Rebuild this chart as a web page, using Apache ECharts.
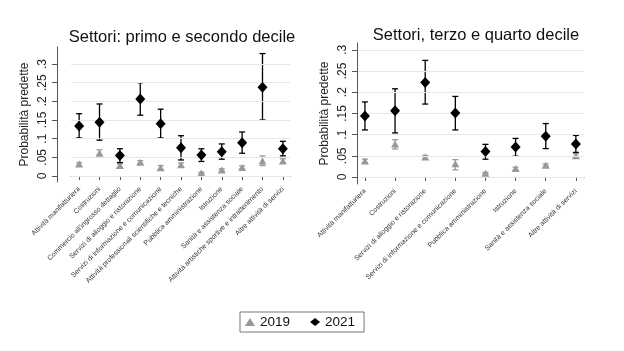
<!DOCTYPE html>
<html>
<head>
<meta charset="utf-8">
<script src="https://cdn.jsdelivr.net/npm/echarts@6/dist/echarts.min.js"></script>
<style>
  html, body { margin: 0; padding: 0; background: #fff; }
  #chart { width: 624px; height: 351px; }
</style>
</head>
<body>
<div id="chart"></div>
<script>
// settori, pannello sinistro (primo e secondo decile)
var cats1 = ['Attività manifatturiera', 'Costruzioni', "Commercio all'ingrosso dettaglio",
  'Servizi di alloggio e ristorazione', 'Servizi di informazione e comunicazione',
  'Attività professionali scientifiche e tecniche', 'Pubblica amministrazione', 'Istruzione',
  'Sanità e assistenza sociale', 'Attività artistiche sportive e intrattenimento', 'Altre attività di servizi'];
var p1_2019 = [0.032, 0.062, 0.028, 0.037, 0.022, 0.030, 0.008, 0.016, 0.023, 0.040, 0.040];
var lo1_2019 = [0.028, 0.054, 0.023, 0.033, 0.017, 0.025, 0.006, 0.013, 0.019, 0.028, 0.035];
var hi1_2019 = [0.036, 0.070, 0.033, 0.041, 0.028, 0.035, 0.010, 0.019, 0.027, 0.054, 0.046];
var p1_2021 = [0.134, 0.144, 0.055, 0.206, 0.140, 0.076, 0.056, 0.065, 0.089, 0.238, 0.073];
var lo1_2021 = [0.102, 0.096, 0.036, 0.163, 0.102, 0.043, 0.039, 0.045, 0.061, 0.150, 0.054];
var hi1_2021 = [0.167, 0.193, 0.073, 0.250, 0.179, 0.108, 0.073, 0.086, 0.118, 0.328, 0.093];

// pannello destro (terzo e quarto decile)
var cats2 = ['Attività manifatturiera', 'Costruzioni', 'Servizi di alloggio e ristorazione',
  'Servizi di informazione e comunicazione', 'Pubblica amministrazione', 'Istruzione',
  'Sanità e assistenza sociale', 'Altre attività di servizi'];
var p2_2019 = [0.038, 0.078, 0.047, 0.031, 0.009, 0.020, 0.028, 0.050];
var lo2_2019 = [0.034, 0.066, 0.043, 0.017, 0.007, 0.017, 0.025, 0.046];
var hi2_2019 = [0.042, 0.088, 0.051, 0.041, 0.011, 0.023, 0.031, 0.055];
var p2_2021 = [0.144, 0.156, 0.223, 0.151, 0.060, 0.071, 0.096, 0.078];
var lo2_2021 = [0.111, 0.104, 0.172, 0.111, 0.042, 0.049, 0.067, 0.058];
var hi2_2021 = [0.177, 0.208, 0.275, 0.190, 0.077, 0.091, 0.126, 0.098];

var yTicks = [0, 0.05, 0.1, 0.15, 0.2, 0.25, 0.3];

var FONT = '"Liberation Sans", Arial, sans-serif';
var GREY = '#999999';
var BLACK = '#000000';

var chart = echarts.init(document.getElementById('chart'));

function pts(vals) {
    return vals.map(function (v, i) { return [i + 1, v]; });
}
function bars(lo, hi) {
    return lo.map(function (v, i) { return [i + 1, v, hi[i]]; });
}
// barre di errore con i cappucci
function errBar(color) {
    return function (params, api) {
        var x = api.value(0);
        var a = api.coord([x, api.value(1)]);
        var b = api.coord([x, api.value(2)]);
        var w = 3;
        var st = { stroke: color, lineWidth: 1.3 };
        return {
            type: 'group',
            children: [
                { type: 'line', shape: { x1: a[0], y1: a[1], x2: b[0], y2: b[1] }, style: st },
                { type: 'line', shape: { x1: a[0] - w, y1: a[1], x2: a[0] + w, y2: a[1] }, style: st },
                { type: 'line', shape: { x1: b[0] - w, y1: b[1], x2: b[0] + w, y2: b[1] }, style: st }
            ]
        };
    };
}

function xAxisFor(idx, cats, min, max) {
    var ticks = cats.map(function (c, i) { return i + 1; });
    return {
        type: 'value', gridIndex: idx, min: min, max: max,
        splitLine: { show: false },
        axisLine: { lineStyle: { color: '#555', width: 1 } },
        axisTick: { customValues: ticks, length: 4, lineStyle: { color: '#555' } },
        axisLabel: {
            customValues: ticks, rotate: 45, margin: 6, fontSize: 7, color: '#333', fontFamily: FONT,
            formatter: function (v) { return cats[Math.round(v) - 1] || ''; }
        }
    };
}
function yAxisFor(idx, min, max, offset) {
    return {
        type: 'value', gridIndex: idx, min: min, max: max, offset: offset,
        name: 'Probabilità predette', nameLocation: 'middle', nameGap: 26,
        nameTextStyle: { fontSize: 12, color: '#222', fontFamily: FONT },
        splitLine: { show: false },
        axisLine: { show: true, lineStyle: { color: '#555', width: 1 } },
        axisTick: { show: true, customValues: yTicks, length: 5, lineStyle: { color: '#555' } },
        axisLabel: {
            customValues: yTicks, rotate: 90, margin: 8, fontSize: 12, color: '#222', fontFamily: FONT,
            formatter: function (v) { return v === 0 ? '0' : String(v).replace('0.', '.'); }
        }
    };
}
function grids(idx) {
    return {
        silent: true, symbol: 'none',
        label: { show: false },
        lineStyle: { color: '#e6e6e6', width: 1.2, type: 'solid' },
        data: yTicks.map(function (t) { return { yAxis: t }; })
    };
}
function panel(idx, p19, lo19, hi19, p21, lo21, hi21) {
    return [
        { type: 'custom', name: 'ci2019', xAxisIndex: idx, yAxisIndex: idx, renderItem: errBar(GREY),
          data: bars(lo19, hi19), z: 2, markLine: grids(idx) },
        { type: 'scatter', name: '2019', xAxisIndex: idx, yAxisIndex: idx, symbol: 'triangle',
          symbolSize: [8, 7], itemStyle: { color: GREY, opacity: 1 }, data: pts(p19), z: 3 },
        { type: 'custom', name: 'ci2021', xAxisIndex: idx, yAxisIndex: idx, renderItem: errBar(BLACK),
          data: bars(lo21, hi21), z: 4 },
        { type: 'scatter', name: '2021', xAxisIndex: idx, yAxisIndex: idx, symbol: 'diamond',
          symbolSize: [10, 11], itemStyle: { color: BLACK, opacity: 1 }, data: pts(p21), z: 5 }
    ];
}

var option = {
    animation: false,
    backgroundColor: '#fff',
    title: [
        { text: 'Settori: primo e secondo decile', left: 177, top: 24, textAlign: 'center',
          textStyle: { fontSize: 16.5, fontWeight: 'normal', color: '#111', fontFamily: FONT } },
        { text: 'Settori, terzo e quarto decile', left: 471, top: 22, textAlign: 'center',
          textStyle: { fontSize: 16.5, fontWeight: 'normal', color: '#111', fontFamily: FONT } }
    ],
    legend: {
        data: ['2019', '2021'], left: 240, top: 312, orient: 'horizontal',
        itemWidth: 10, itemHeight: 8, itemGap: 20, padding: [3, 9, 3, 5],
        borderColor: '#777', borderWidth: 1, borderRadius: 0,
        textStyle: { fontSize: 13.5, color: '#111', fontFamily: FONT }
    },
    grid: [
        { left: 71, top: 47, width: 219, height: 135 },
        { left: 358, top: 43, width: 226, height: 141 }
    ],
    xAxis: [xAxisFor(0, cats1, 0.6, 11.35), xAxisFor(1, cats2, 0.77, 8.27)],
    yAxis: [yAxisFor(0, -0.016, 0.3456, 14), yAxisFor(1, -0.0165, 0.316, 1)],
    series: panel(0, p1_2019, lo1_2019, hi1_2019, p1_2021, lo1_2021, hi1_2021)
        .concat(panel(1, p2_2019, lo2_2019, hi2_2019, p2_2021, lo2_2021, hi2_2021))
};
chart.setOption(option);
</script>
</body>
</html>
